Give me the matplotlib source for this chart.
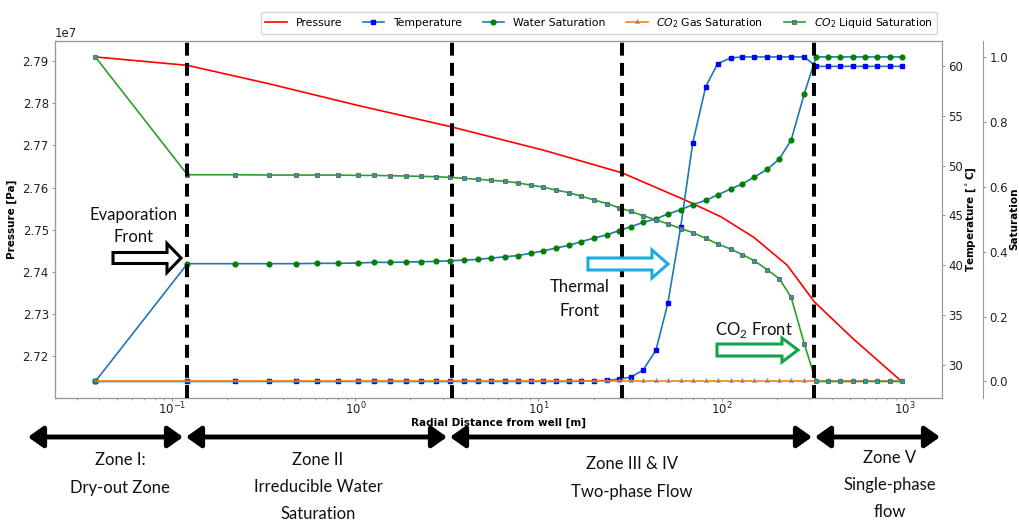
"""
plot.py - CO2 injection profile vs radial distance, with zone annotations.
"""

import matplotlib
matplotlib.use("Agg")  # no display
import matplotlib.pyplot as plt
from matplotlib import patches, transforms

# ---- data ----
# radial position of each grid block [m]
radius = [0.038, 0.121, 0.22, 0.337, 0.472, 0.621, 0.808, 1.03, 1.27, 1.55,
          1.89, 2.28, 2.76, 3.28, 3.91, 4.66, 5.48, 6.53, 7.69, 9.05,
          10.6, 12.4, 14.6, 17.1, 20.2, 23.7, 27.6, 32.0, 37.2, 43.8,
          50.9, 59.8, 69.6, 81.9, 95.1, 112, 130, 151, 178, 207,
          240, 283, 328, 382, 444, 522, 606, 705, 829, 963]

temperature = [28.3, 28.3, 28.3, 28.3, 28.3, 28.3, 28.3, 28.3, 28.3, 28.3,
               28.3, 28.3, 28.3, 28.3, 28.3, 28.3, 28.3, 28.3, 28.3, 28.3,
               28.3, 28.3, 28.3, 28.32, 28.35, 28.42, 28.52, 28.75, 29.43, 31.44,
               36.18, 43.84, 52.31, 57.95, 60.27, 60.85, 60.95, 60.95, 60.95, 60.95,
               60.95, 60.95, 60.0, 60.0, 60.0, 60.0, 60.0, 60.0, 60.0, 60.0]

water_sat = [0.0, 0.363, 0.363, 0.363, 0.363, 0.364, 0.364, 0.365, 0.367, 0.367,
             0.368, 0.369, 0.370, 0.372, 0.374, 0.376, 0.380, 0.384, 0.388, 0.395,
             0.402, 0.411, 0.419, 0.431, 0.442, 0.452, 0.465, 0.477, 0.490, 0.501,
             0.516, 0.529, 0.545, 0.558, 0.575, 0.593, 0.609, 0.630, 0.654, 0.686,
             0.744, 0.887, 1.0, 1.0, 1.0, 1.0, 1.0, 1.0, 1.0, 1.0]

co2_gas_sat = [0.0, 0.0, 0.0, 0.0, 0.0, 0.0, 0.0, 0.0, 0.0, 0.0,
               0.0, 0.0, 0.0, 0.0, 0.0, 0.0, 0.0, 0.0, 0.0, 0.0,
               0.0, 0.0, 0.0, 0.0, 0.0, 0.0, 0.0, 0.0, 0.0, 0.0,
               0.0, 0.0, 0.0, 0.0, 0.0, 0.0, 0.0, 0.0, 0.0, 0.0,
               0.0, 0.0, 0.0, 0.0, 0.0, 0.0, 0.0, 0.0, 0.0, 0.0]

co2_liq_sat = [1.0, 0.637, 0.637, 0.636, 0.636, 0.636, 0.636, 0.635, 0.635, 0.634,
               0.633, 0.632, 0.631, 0.629, 0.626, 0.623, 0.620, 0.617, 0.612, 0.605,
               0.599, 0.590, 0.582, 0.571, 0.559, 0.548, 0.535, 0.524, 0.511, 0.498,
               0.486, 0.471, 0.459, 0.441, 0.424, 0.408, 0.391, 0.372, 0.344, 0.316,
               0.259, 0.116, 0.0, 0.0, 0.0, 0.0, 0.0, 0.0, 0.0, 0.0]

# pressure is drawn as a plain line, read at fewer points
pressure_r = [0.038, 0.121, 0.34, 1.03, 3.28, 10.6, 28.6, 62, 99, 150, 228, 321, 524, 963]
pressure = [2.7910e7, 2.7890e7, 2.7846e7, 2.7795e7, 2.7745e7, 2.7689e7, 2.7635e7,
            2.7572e7, 2.7531e7, 2.7482e7, 2.7416e7, 2.7329e7, 2.7241e7, 2.7140e7]

# front positions (dashed lines) [m]
front_r = [0.121, 3.35, 28.6, 320]

zone_labels = ["Zone I:\nDry-out Zone",
               "Zone II\nIrreducible Water\nSaturation",
               "Zone III & IV\nTwo-phase Flow",
               "Zone V\nSingle-phase\nflow"]

# ---- figure ----
W, H = 1019, 522
fig = plt.figure(figsize=(W / 100, H / 100), dpi=100)
ax1 = fig.add_axes([55 / W, 1 - 397.7 / H, 887 / W, 357 / H])
ax1.set_xscale("log")
ax2 = ax1.twinx()
ax3 = ax1.twinx()
ax3.spines["right"].set_position(("axes", 1.0462))

h_p, = ax1.plot(pressure_r, pressure, color="red", lw=1.2, label="Pressure")
h_t, = ax2.plot(radius, temperature, color="C0", lw=1.2, marker="s", ms=3.4,
                mfc="blue", mec="blue", label="Temperature")
h_w, = ax3.plot(radius, water_sat, color="C0", lw=1.2, marker="o", ms=3.4,
                mfc="green", mec="green", label="Water Saturation")
h_g, = ax3.plot(radius, co2_gas_sat, color="C1", lw=1.2, marker="2", ms=4,
                mec="gray", label="$CO_2$ Gas Saturation")
h_l, = ax3.plot(radius, co2_liq_sat, color="C2", lw=1.2, marker="s", ms=3,
                mfc="#2a9d9d", mec="#606060", mew=0.6, label="$CO_2$ Liquid Saturation")

for r in front_r:
    ax3.axvline(r, color="black", lw=2.9, ls=(0, (3.2, 1.8)), zorder=5)

spine_c = "#999999"
for ax in (ax1, ax2, ax3):
    for sp in ax.spines.values():
        sp.set_color(spine_c)
    ax.tick_params(labelsize=8.5, color=spine_c, labelcolor="#222222",
                   length=2.5, pad=2)
ax1.tick_params(axis="x", which="major", length=2, pad=0.5)
ax1.tick_params(axis="x", which="minor", color=spine_c, length=1.5)
ax1.yaxis.get_offset_text().set_fontsize(8.5)

lab = dict(fontsize=7.5, fontweight="bold")
ax1.set_xlabel("Radial Distance from well [m]", labelpad=0, **lab)
ax1.set_ylabel("Pressure [Pa]", **lab)
ax2.set_ylabel(r"Temperature [$^\circ$C]", labelpad=1, **lab)
ax3.set_ylabel("Saturation", labelpad=1, **lab)

handles = [h_p, h_t, h_w, h_g, h_l]
ax1.legend(handles, [h.get_label() for h in handles], ncol=5, fontsize=7.8,
           loc="upper right", bbox_to_anchor=(937 / W, 1 - 11.7 / H),
           bbox_transform=fig.transFigure, borderaxespad=0, columnspacing=1.9)

# ---- annotations, placed in image pixels (origin top-left) ----
fig_px = transforms.Affine2D().scale(1 / W, -1 / H).translate(0, 1) + fig.transFigure
note = dict(transform=fig_px, ha="center", va="center", family="Lato",
            fontsize=12, color="#111111")

fig.text(134, 226, "Evaporation\nFront", linespacing=1.45, **note)
fig.text(580, 299, "Thermal\nFront", linespacing=1.6, **note)
fig.text(754, 330, r"CO$_{\mathregular{2}}$ Front", **note)


def hollow_arrow(x0, x1, y, body, head, head_len, color):
    arr = patches.FancyArrow(x0, y, x1 - x0, 0, width=body, head_width=head,
                             head_length=head_len, length_includes_head=True,
                             transform=fig_px, fc="white", ec=color, lw=2.2)
    fig.add_artist(arr)


hollow_arrow(113, 181, 258, 11, 29, 14, "black")
hollow_arrow(588, 668, 264, 12, 28, 16, "#1eaadf")
hollow_arrow(717, 798, 350, 12, 24, 16, "#14a24b")

# zone arrows and labels under the axes
zone_edges = [(28, 183), (186, 447), (450, 812), (815, 940)]
zone_xy = [(120, 474), (318, 487), (632, 478), (890, 485)]
for (a, b), (tx, ty), txt in zip(zone_edges, zone_xy, zone_labels):
    fig.add_artist(patches.FancyArrowPatch(
        (a, 437), (b, 437), transform=fig_px, color="black", lw=3.5,
        arrowstyle="<|-|>,head_length=0.45,head_width=0.32", mutation_scale=20,
        shrinkA=0, shrinkB=0))
    fig.text(tx, ty, txt, linespacing=1.85, **note)

fig.savefig("out.png", dpi=100)
